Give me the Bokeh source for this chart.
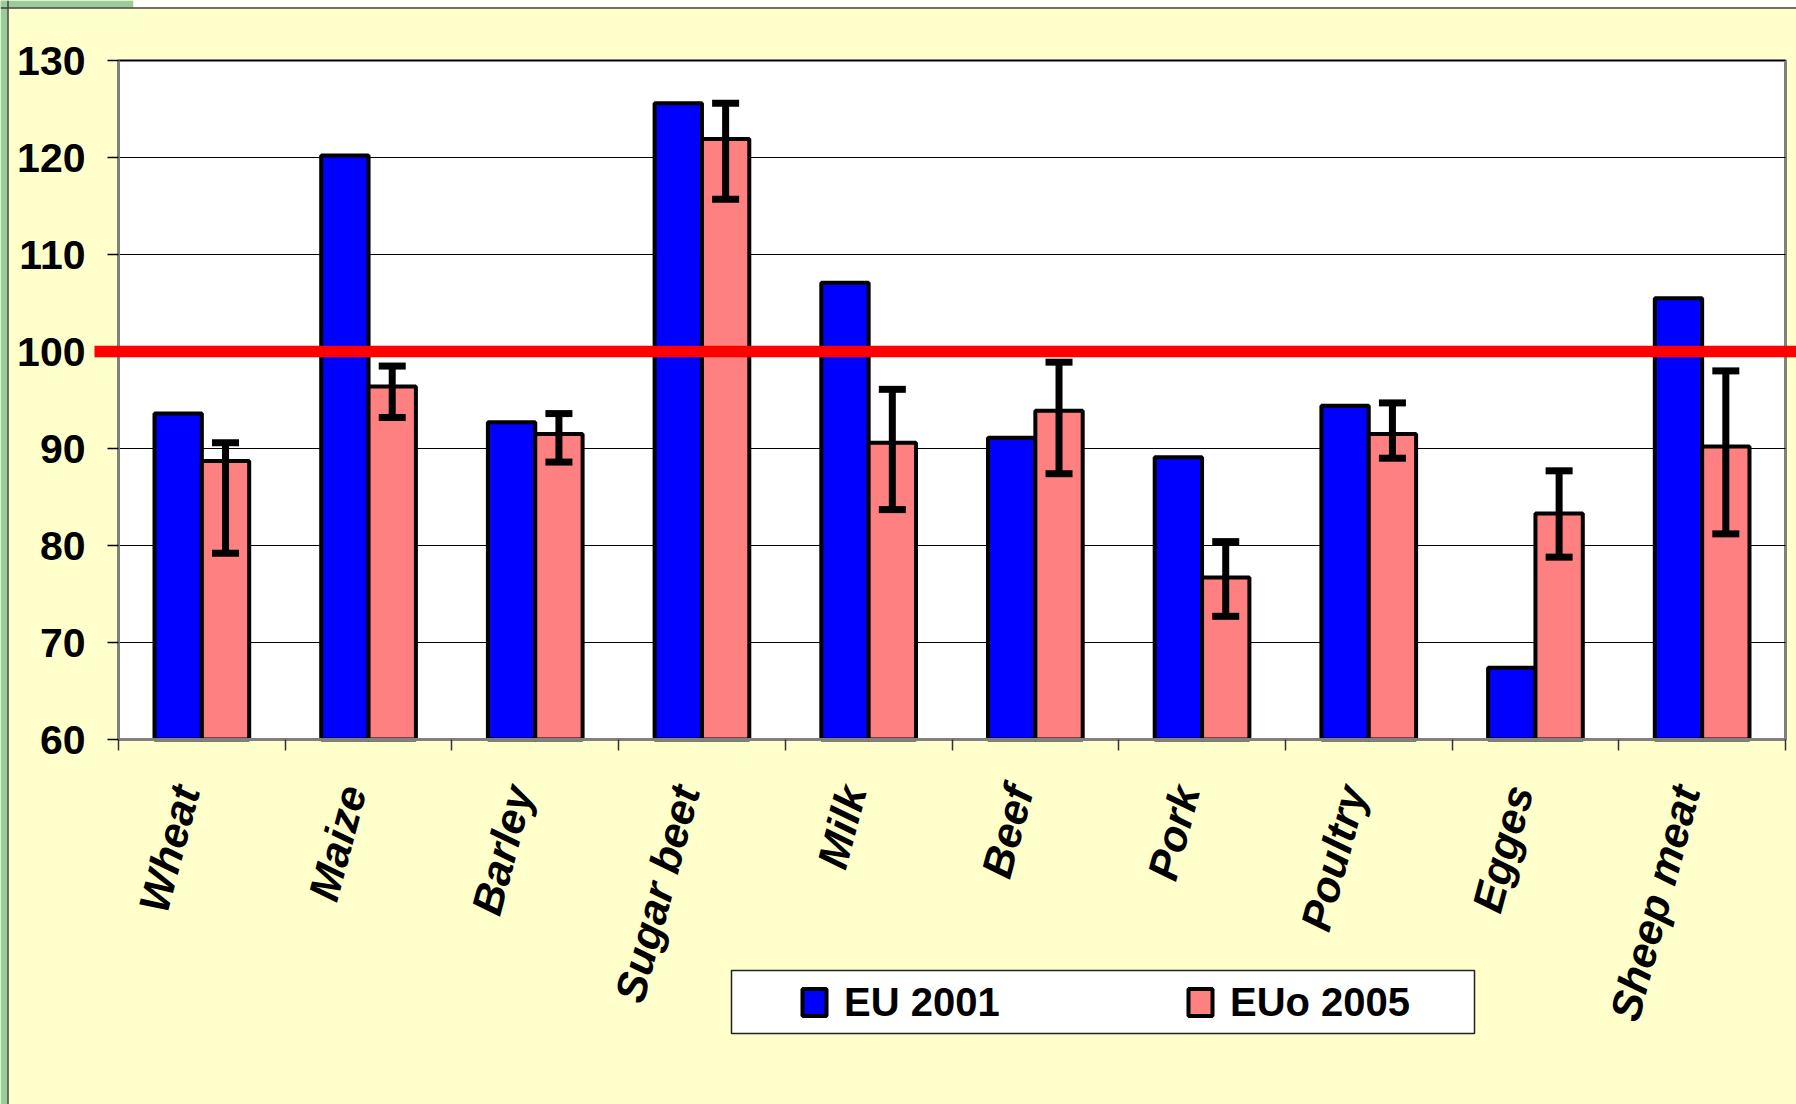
import math
import numpy as np
from bokeh.plotting import figure
from bokeh.models import (Range1d, FixedTicker, Whisker, TeeHead, ColumnDataSource,
                          Legend, LegendItem, BoxAnnotation, Span, LinearAxis)
from bokeh.embed import file_html
from bokeh.resources import INLINE

# ---- data ----
categories = ["Wheat", "Maize", "Barley", "Sugar beet", "Milk", "Beef", "Pork",
              "Poultry", "Egges", "Sheep meat"]
eu_2001 = [93.6, 120.2, 92.7, 125.6, 107.1, 91.1, 89.1, 94.4, 67.4, 105.5]
euo_2005 = [88.7, 96.4, 91.5, 121.9, 90.6, 93.9, 76.7, 91.5, 83.3, 90.2]
euo_2005_hi = [90.6, 98.5, 93.6, 125.6, 96.1, 98.9, 80.4, 94.7, 87.7, 98.0]
euo_2005_lo = [79.2, 93.2, 88.6, 115.7, 83.7, 87.4, 72.7, 89.0, 78.8, 81.2]
y_ticks = [60, 70, 80, 90, 100, 110, 120, 130]
reference_level = 100

# ---- layout / style constants (pixels) ----
W, H = 1796, 1104
PX_L, PX_R, PX_T, PX_B = 118, 1785, 60, 739      # plot area
LEG_L, LEG_R, LEG_T, LEG_B = 731, 1474, 970, 1033  # legend box
BAR_W = 0.284
LABEL_SHIFT_PX = 16
YELLOW = "#FFFFCC"
BLUE = "#0000FF"
PINK = "#FF8080"
GREEN = "#99CC99"
FONT = "Liberation Sans"

n = len(categories)
centers = np.arange(n) + 0.5
y0, y1 = y_ticks[0], y_ticks[-1]
xs = (PX_R - PX_L) / n           # px per category
ys = (PX_B - PX_T) / (y1 - y0)   # px per unit


def py2y(py):
    return y1 + (PX_T - py) / ys


src = ColumnDataSource(dict(
    x1=centers - BAR_W / 2,
    x2=centers + BAR_W / 2,
    eu=eu_2001,
    euo=euo_2005,
    hi=euo_2005_hi,
    lo=euo_2005_lo,
))

p = figure(width=W, height=H,
           x_range=Range1d(-PX_L / xs, n + (W - PX_R) / xs),
           y_range=Range1d(py2y(H), py2y(0)),
           output_backend="svg", toolbar_location=None,
           x_axis_location=None, y_axis_location=None,
           min_border=0, background_fill_color=YELLOW, border_fill_color=YELLOW)
p.outline_line_color = None
p.xgrid.visible = False
p.ygrid.visible = False

# page decorations: green strip on the left, strip on top
p.add_layout(BoxAnnotation(right=7, right_units="screen", fill_color=GREEN,
                           fill_alpha=1, line_alpha=0, level="underlay"))
p.add_layout(BoxAnnotation(right=133, right_units="screen", bottom=py2y(7),
                           fill_color=GREEN, fill_alpha=1, line_alpha=0, level="underlay"))
p.add_layout(BoxAnnotation(left=133, left_units="screen", bottom=py2y(7),
                           fill_color="white", fill_alpha=1, line_alpha=0, level="underlay"))
p.add_layout(Span(location=7.5, location_units="screen", dimension="height",
                  line_color="#404040", line_width=1.5, level="underlay"))
p.add_layout(Span(location=py2y(7.5), dimension="width",
                  line_color="#404040", line_width=1.5, level="underlay"))

# plot area
p.add_layout(BoxAnnotation(left=0, right=n, bottom=y0, top=y1,
                           fill_color="white", fill_alpha=1,
                           line_color="#808080", line_alpha=1, line_width=3,
                           level="underlay"))

# grid lines
p.segment(x0=0, x1=n, y0=y_ticks, y1=y_ticks, line_color="black", line_width=1)

# bars
r1 = p.vbar(x="x1", top="eu", bottom=y0, width=BAR_W, source=src,
            fill_color=BLUE, line_color="black", line_width=4)
r2 = p.vbar(x="x2", top="euo", bottom=y0, width=BAR_W, source=src,
            fill_color=PINK, line_color="black", line_width=4)

# error bars
wh = Whisker(source=src, base="x2", upper="hi", lower="lo",
             line_color="black", line_width=7, level="annotation",
             upper_head=TeeHead(size=27, line_width=7, line_color="black"),
             lower_head=TeeHead(size=27, line_width=7, line_color="black"))
p.add_layout(wh)

# reference line at 100 (extends past the plot area, as in the original)
ref = BoxAnnotation(left=PX_L - 24, left_units="screen",
                    bottom=reference_level - 0.6, top=reference_level + 0.6,
                    fill_color="#FF0000", fill_alpha=1.0, line_alpha=0,
                    level="overlay")
p.add_layout(ref)

# y axis
ya = LinearAxis(fixed_location=0, bounds=(y0, y1))
ya.ticker = FixedTicker(ticks=y_ticks)
ya.axis_line_color = "#808080"
ya.axis_line_width = 3
ya.major_tick_line_color = "black"
ya.major_tick_line_width = 1.5
ya.major_tick_out = 11
ya.major_tick_in = 0
ya.minor_tick_line_color = None
ya.major_label_standoff = 22
ya.major_label_text_font = FONT
ya.major_label_text_font_style = "bold"
ya.major_label_text_font_size = "41px"
ya.major_label_text_color = "black"
p.add_layout(ya, "left")

# x axis
label_pos = centers - LABEL_SHIFT_PX / xs
xa = LinearAxis(fixed_location=y0, bounds=(0, n))
xa.ticker = FixedTicker(ticks=list(label_pos), minor_ticks=list(range(n + 1)))
xa.major_label_overrides = {float(c): name for c, name in zip(label_pos, categories)}
xa.axis_line_color = "#808080"
xa.axis_line_width = 3
xa.major_tick_line_color = None
xa.major_tick_out = 0
xa.major_tick_in = 0
xa.minor_tick_line_color = "#333333"
xa.minor_tick_line_width = 1.5
xa.minor_tick_out = 11
xa.minor_tick_in = 0
xa.major_label_orientation = math.radians(75)
xa.major_label_standoff = 36
xa.major_label_text_font = FONT
xa.major_label_text_font_style = "bold italic"
xa.major_label_text_font_size = "43px"
xa.major_label_text_color = "black"
p.add_layout(xa, "below")

# legend box (white panel with border), then the legend items on top of it
p.add_layout(BoxAnnotation(left=LEG_L, left_units="screen", right=LEG_R, right_units="screen",
                           top=py2y(LEG_T), bottom=py2y(LEG_B),
                           fill_color="white", fill_alpha=1,
                           line_color="#222222", line_alpha=1, line_width=1.5,
                           level="annotation"))
legend = Legend(items=[LegendItem(label="EU 2001", renderers=[r1]),
                       LegendItem(label="EUo 2005", renderers=[r2])],
                orientation="horizontal",
                location=(799, H - (LEG_T + LEG_B) / 2 - 23),
                padding=0, margin=0, spacing=180, label_width=161,
                glyph_width=30, glyph_height=34, label_standoff=15,
                label_text_font=FONT, label_text_font_style="bold",
                label_text_font_size="40px", label_text_color="black",
                border_line_color=None, background_fill_alpha=0.0)
p.add_layout(legend, "center")

open("out.html", "w").write(file_html(p, INLINE))
